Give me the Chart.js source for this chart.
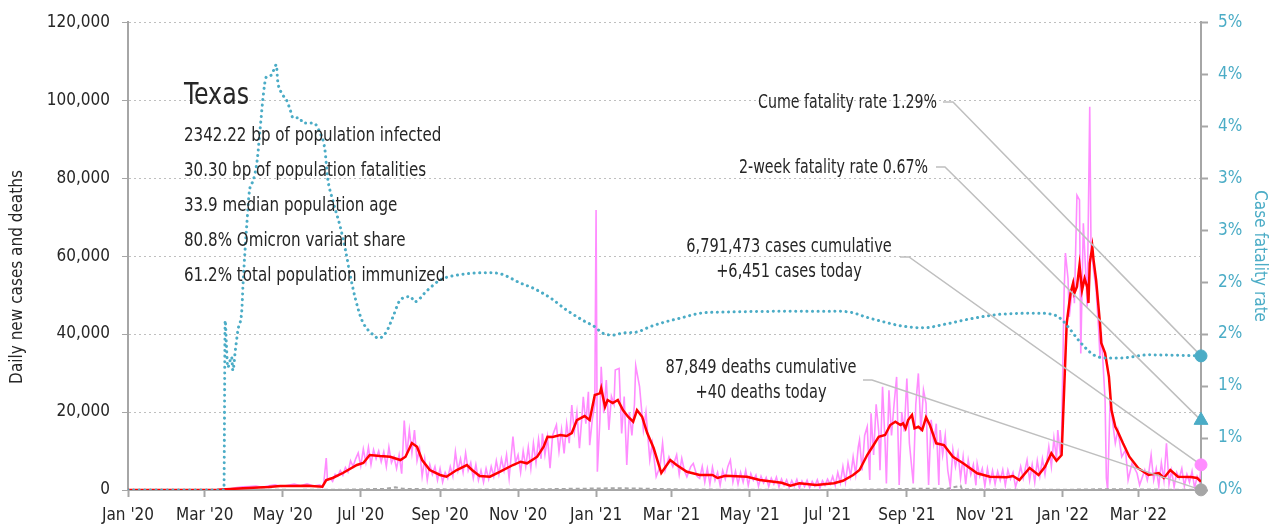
<!DOCTYPE html>
<html><head><meta charset="utf-8">
<script src="https://cdn.jsdelivr.net/npm/chart.js@4.4.1/dist/chart.umd.min.js"></script>
<style>html,body{margin:0;padding:0;background:#fff;overflow:hidden}canvas{display:block}</style>
</head><body>
<canvas id="c" width="1278" height="529"></canvas>
<script>
const FONT = '"Liberation Sans Narrow","DejaVu Sans Condensed","Roboto",sans-serif';

// x axis: day index since 1 Jan 2020
const xTickDays = [0,60,121,182,244,305,366,425,486,547,609,670,731,790];
const xTickLabels = ["Jan '20","Mar '20","May '20","Jul '20","Sep '20","Nov '20","Jan '21","Mar '21","May '21","Jul '21","Sep '21","Nov '21","Jan '22","Mar '22"];
const lastDay = 839;

// daily new cases (pink)
const caseDays = [0,21,60,66,70,75,80,85,90,95,100,105,110,115,120,125,130,135,140,145,150,152,
153,155,156,158,160,162,164,166,168,170,172,174,176,178,180,182,184,186,188,190,192,194,196,198,200,202,204,206,208,210,212,214,216,218,220,222,224,226,228,230,232,234,236,238,240,242,244,246,248,250,252,254,256,258,260,262,264,266,268,270,272,274,276,278,280,282,284,286,288,290,292,294,296,
298,301,303,305,307,309,311,313,315,317,319,321,323,324,326,328,330,332,335,337,339,341,343,345,347,349,351,353,355,356,358,360,361,363,365,366,367,369,
370,372,374,376,378,380,381,384,386,388,390,392,394,396,397,400,403,405,408,410,413,416,418,420,423,426,429,431,433,435,437,440,442,445,447,
449,451,453,455,457,459,461,463,465,467,469,471,473,475,477,479,481,483,485,487,489,491,493,495,497,499,501,503,505,507,509,511,513,515,517,519,521,523,525,527,529,531,533,535,537,539,541,543,545,547,
549,551,553,555,557,559,561,563,565,567,569,571,572,574,576,578,580,581,583,585,587,588,590,592,593,595,597,599,601,603,605,607,609,611,614,616,618,620,622,624,626,628,630,632,634,635,637,639,641,643,645,647,649,651,653,655,657,659,661,663,664,666,668,670,
672,674,676,678,680,682,684,686,688,690,692,694,696,698,700,703,705,707,709,711,713,715,717,720,722,724,726,727,729,730,
732,733,735,736,739,740,742,744,745,747,749,750,752,753,755,757,759,760,761,764,765,766,768,770,772,774,777,780,782,785,789,791,795,797,
798,800,802,804,806,808,810,812,814,816,818,820,822,824,826,828,830,832,834,836,838,839];
const caseVals = [0,0,0,20,60,150,300,600,800,900,1000,700,1100,1300,900,1200,1500,1100,1600,1000,1300,700,
1500,8200,2500,3000,2200,4000,3500,5000,3800,5800,4600,7500,6000,8000,9500,6200,10500,7000,11000,6500,10300,8000,10000,7200,9800,6000,11000,7000,8500,5500,9000,4200,17800,9000,15400,9500,15400,7500,10500,3500,8000,2600,6500,4000,6000,2500,5500,2000,4500,3000,6000,3500,9800,5000,8000,4500,9500,5000,7000,3000,6500,2500,5000,2000,5500,2800,6000,3500,7500,4000,8000,5000,9000,
3000,13700,7000,9000,4500,10000,6000,11000,5500,12000,7000,13000,8000,14500,9000,13500,5600,14000,16700,10000,15500,9400,17000,12000,21800,15000,20000,10700,19000,23900,17000,25200,11500,18000,22000,71800,4700,18000,
31600,19700,28200,15400,24000,22000,30800,31200,14500,24000,6400,20000,14000,22000,31900,26500,15400,20000,7700,12000,3400,6000,12000,5000,8500,6000,9000,4000,8100,5000,3400,6000,6800,3500,3000,
6000,2000,5500,1500,5800,2500,4500,1200,5000,2800,6000,7700,2000,4800,1500,4500,2000,5000,1200,4200,2500,3800,1000,3500,1800,3200,900,3000,1500,3300,800,2800,1200,2600,600,2400,1000,2700,500,2300,900,2500,600,2200,1000,2600,500,2400,1200,2800,
1500,3500,1200,4500,1800,6000,2000,7000,3500,8500,4000,11000,12800,5000,14000,16200,2560,19700,9000,22000,15000,5100,26500,12000,1700,25600,14000,22000,29000,1280,20000,15000,28600,12000,1700,22000,29900,15000,25600,22200,1280,18000,12000,17000,1300,15400,9000,14000,5000,900,10300,6000,9500,3000,8500,1500,7700,4000,6500,1200,6800,3500,5500,1000,
5500,2000,5000,1500,4800,2500,5200,1200,5100,2800,4500,800,3000,6000,3000,7700,2500,6500,2000,7500,3500,8000,4000,11100,6000,13300,8000,15400,9000,14000,
51300,60800,54300,44400,53800,47900,75600,74400,35000,68400,54700,47000,98300,62400,56400,51300,41000,34200,40600,23100,3000,0,23900,17100,12000,15400,8500,10300,2560,6800,4300,1300,5100,2500,
4000,9000,2500,5500,1000,7000,2500,12000,1500,5000,800,4500,3000,5500,1000,4000,2000,4800,500,3500,2000,6451];

// 7-day average of new cases (red)
const avgDays = [0,21,60,70,80,90,98,110,119,130,140,152,155,160,168,179,184,189,197,205,213,217,222,226,230,236,244,249,257,265,269,275,283,291,301,307,312,320,325,328,332,338,343,347,351,357,361,365,369,370,373,375,379,383,387,391,395,398,402,406,411,417,424,429,437,447,457,461,467,484,494,511,518,525,538,552,559,567,572,578,583,587,592,596,600,604,606,608,610,613,615,618,621,624,627,632,638,645,653,664,674,687,692,697,705,712,717,722,726,730,731,734,737,739,740,742,744,746,748,750,751,752,754,755,757,760,761,764,767,769,772,774,778,783,790,798,806,810,815,821,831,836,839];
const avgVals = [0,0,0,50,250,450,590,800,1030,1050,1100,850,2560,3080,4360,6410,6920,8970,8720,8540,7690,8540,12050,11100,7690,5130,3850,3410,5130,6410,5130,3590,3410,4690,6410,7260,6850,8540,11100,13670,13590,14100,13850,14610,17950,18970,17950,24360,24790,26080,21360,23080,22310,23080,20510,18800,17510,20510,18800,14610,10770,4360,7690,6410,4690,3850,3850,3080,3670,3410,2560,1870,1100,1720,1280,1720,2380,3850,5130,8970,11540,13670,14100,16670,17510,16670,17100,15820,17950,19230,15820,16230,15380,18640,16670,11970,11540,8540,6850,4280,3410,3260,3590,2560,5640,3850,5970,9410,7510,8970,17180,42820,50510,53070,50510,52130,57690,51280,54280,52130,47950,58200,62380,58970,53840,42820,37690,35130,29050,20510,16230,14950,11970,8540,5560,3850,4360,3080,5130,3410,3330,3080,2130];

// daily deaths (grey)
const deathDays = [0,70,80,100,130,160,180,200,209,215,240,270,300,330,350,366,380,395,410,430,460,500,540,570,600,620,640,651,652,670,700,730,750,770,790,810,839];
const deathVals = [0,0,20,40,30,40,150,280,700,300,180,90,120,220,320,380,450,400,280,160,90,50,25,60,220,330,280,1100,220,120,50,40,140,220,160,80,40];

// case fatality rate, % (cyan, right axis)
const cfrDays = [0,75,76,77,78,81,82,84,86,89,90,93,95,98,101,103,106,108,112,116,117,120,124,127,129,134,137,145,150,154,156,160,166,170,174,178,183,192,196,202,207,213,221,224,234,244,254,281,291,307,317,330,343,356,365,371,379,387,398,408,421,434,447,461,551,565,578,590,604,622,637,656,682,713,725,730,737,744,755,765,776,798,839];
const cfrVals = [0,0,1.63,1.38,1.18,1.28,1.15,1.35,1.54,1.73,1.99,2.57,2.88,2.98,3.17,3.43,3.82,3.97,3.99,4.09,3.94,3.82,3.75,3.65,3.58,3.58,3.53,3.53,3.44,3.27,3.01,2.79,2.53,2.31,2.05,1.83,1.63,1.49,1.46,1.52,1.66,1.83,1.86,1.81,1.92,2.02,2.06,2.09,2.08,1.99,1.94,1.85,1.73,1.63,1.57,1.51,1.49,1.51,1.52,1.57,1.62,1.66,1.70,1.71,1.72,1.71,1.66,1.62,1.58,1.56,1.59,1.64,1.69,1.70,1.68,1.64,1.54,1.43,1.30,1.27,1.27,1.30,1.29];

const cumeCFR = 1.29, twoWeekCFR = 0.67, casesToday = 6451, deathsToday = 40;
const titleText = 'Texas';
const infoLines = ['2342.22 bp of population infected','30.30 bp of population fatalities','33.9 median population age','80.8% Omicron variant share','61.2% total population immunized'];
const annotCFR = 'Cume fatality rate 1.29%';
const annot2wk = '2-week fatality rate 0.67%';
const annotCases = ['6,791,473 cases cumulative','+6,451 cases today'];
const annotDeaths = ['87,849 deaths cumulative','+40 deaths today'];
const leftTitle = 'Daily new cases and deaths';

const CYAN = '#4bacc6', PINK = '#ff8cff', RED = '#ff0000', GREY = '#a6a6a6', TXT = '#262626';
const pts = (d, v) => d.map((x, i) => ({x, y: v[i]}));

function txt(ctx, s, x, y, sx, align) {
  ctx.save(); ctx.translate(x, y); ctx.scale(sx, 1); ctx.textAlign = align; ctx.fillText(s, 0, 0); ctx.restore();
}

const annotPlugin = {
  id: 'annot',
  beforeDatasetDraw(chart, args) {
    if (args.index !== 3) return;
    const {ctx, scales: {x, y, y2}} = chart;
    const ex = x.getPixelForValue(lastDay);
    ctx.save();
    ctx.strokeStyle = '#bfbfbf'; ctx.lineWidth = 1.5;
    const lead = (x0, x1, yy, ty) => { ctx.beginPath(); ctx.moveTo(x0, yy); ctx.lineTo(x1, yy); ctx.lineTo(ex, ty); ctx.stroke(); };
    lead(943, 953, 102, y2.getPixelForValue(cumeCFR));
    lead(936, 945, 167, y2.getPixelForValue(twoWeekCFR));
    lead(900, 909, 257, y.getPixelForValue(casesToday));
    lead(863, 872, 380, y.getPixelForValue(deathsToday));
    ctx.restore();
  },
  afterDraw(chart) {
    const {ctx} = chart;
    ctx.save();
    ctx.fillStyle = TXT; ctx.textBaseline = 'middle';
    ctx.font = '31px ' + FONT;
    txt(ctx, titleText, 184, 96, 0.85, 'left');
    ctx.font = '20px ' + FONT;
    infoLines.forEach((t, i) => txt(ctx, t, 184, 136 + i * 35, 0.84, 'left'));
    txt(ctx, annotCFR, 937, 103, 0.79, 'right');
    txt(ctx, annot2wk, 928, 168, 0.79, 'right');
    txt(ctx, annotCases[0], 789, 247, 0.81, 'center');
    txt(ctx, annotCases[1], 789, 272, 0.81, 'center');
    txt(ctx, annotDeaths[0], 761, 368, 0.81, 'center');
    txt(ctx, annotDeaths[1], 761, 393, 0.81, 'center');
    // left axis title
    ctx.save();
    ctx.translate(18, 277); ctx.rotate(-Math.PI / 2);
    ctx.font = '17px ' + FONT; ctx.textAlign = 'center';
    ctx.fillText(leftTitle, 0, 0);
    ctx.restore();
    ctx.restore();
  }
};

new Chart(document.getElementById('c'), {
  type: 'line',
  data: {
    datasets: [
      {data: [{x: lastDay, y: cumeCFR}], yAxisID: 'y2', pointStyle: 'circle', pointRadius: 6, backgroundColor: CYAN, borderColor: CYAN, showLine: false, clip: false},
      {data: [{x: lastDay, y: twoWeekCFR}], yAxisID: 'y2', pointStyle: 'triangle', pointRadius: 8, backgroundColor: CYAN, borderColor: CYAN, showLine: false, clip: false},
      {data: [{x: lastDay, y: casesToday}], yAxisID: 'y', pointStyle: 'circle', pointRadius: 6, backgroundColor: PINK, borderColor: PINK, showLine: false, clip: false},
      {data: [{x: lastDay, y: deathsToday}], yAxisID: 'y', pointStyle: 'circle', pointRadius: 6, backgroundColor: GREY, borderColor: GREY, showLine: false, clip: false},
      {data: pts(cfrDays, cfrVals), yAxisID: 'y2', borderColor: CYAN, borderWidth: 3, borderDash: [0.1, 5.5], borderCapStyle: 'round', pointRadius: 0, cubicInterpolationMode: 'monotone'},
      {data: pts(avgDays, avgVals), yAxisID: 'y', borderColor: RED, borderWidth: 2.5, pointRadius: 0, tension: 0},
      {data: pts(deathDays, deathVals), yAxisID: 'y', borderColor: GREY, borderWidth: 2, borderDash: [4, 3], pointRadius: 0},
      {data: pts(caseDays, caseVals), yAxisID: 'y', borderColor: PINK, borderWidth: 1.6, pointRadius: 0}
    ]
  },
  options: {
    responsive: false, animation: false, devicePixelRatio: 1,
    layout: {padding: {top: 22, left: 0, right: 0, bottom: 0}},
    plugins: {legend: {display: false}, tooltip: {enabled: false}},
    scales: {
      x: {
        type: 'linear', min: 0, max: lastDay,
        afterBuildTicks: s => { s.ticks = xTickDays.map(v => ({value: v})); },
        ticks: {callback: v => xTickLabels[xTickDays.indexOf(v)], autoSkip: false, maxRotation: 0, font: {family: FONT, size: 17}, color: TXT, padding: 8},
        grid: {drawOnChartArea: false, drawTicks: true, tickLength: 7, tickColor: GREY, tickWidth: 2},
        border: {color: GREY, width: 2},
        afterFit: s => { s.height = 39; }
      },
      y: {
        position: 'left', min: 0, max: 120000,
        ticks: {stepSize: 20000, callback: v => v.toLocaleString('en-US'), font: {family: FONT, size: 17}, color: TXT, padding: 12},
        grid: {color: '#bfbfbf', lineWidth: 1, drawTicks: true, tickLength: 6, tickColor: GREY, tickWidth: 1},
        border: {color: GREY, width: 2, dash: [2, 3]},
        title: {display: false},
        afterFit: s => { s.width = 128; }
      },
      y2: {
        position: 'right', min: 0, max: 4.5,
        ticks: {stepSize: 0.5, callback: v => Math.round(v) + '%', font: {family: FONT, size: 17}, color: CYAN, padding: 10},
        grid: {drawOnChartArea: false, drawTicks: true, tickLength: 7, tickColor: GREY, tickWidth: 2},
        border: {color: GREY, width: 2},
        title: {display: true, text: 'Case fatality rate', font: {family: FONT, size: 17}, color: CYAN, padding: {top: 8, bottom: 0}},
        afterFit: s => { s.width = 77; }
      }
    }
  },
  plugins: [annotPlugin]
});
</script>
</body></html>
